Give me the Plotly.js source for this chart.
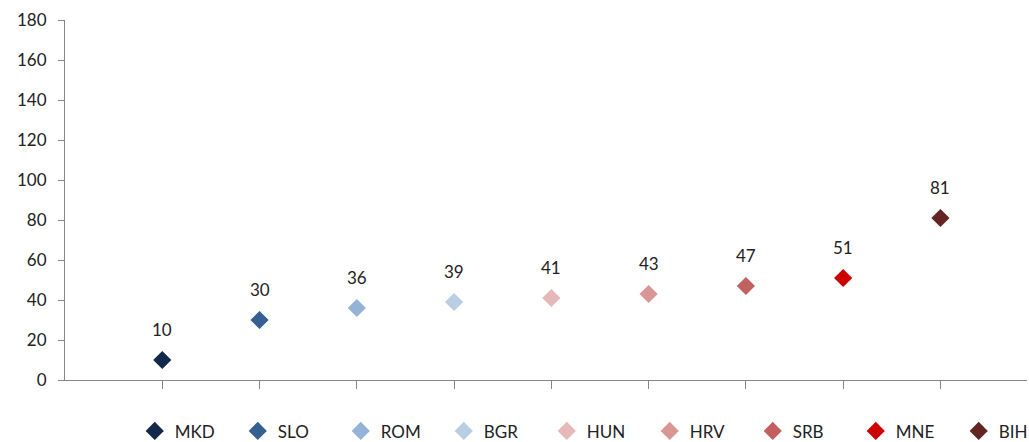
<!DOCTYPE html>
<html><head><meta charset="utf-8">
<script src="https://cdn.plot.ly/plotly-3.0.1.min.js"></script>
<style>html,body{margin:0;padding:0;background:#fff;overflow:hidden}</style>
</head><body><div id="chart" style="width:1029px;height:460px"></div>
<script>
const countries = ["MKD","SLO","ROM","BGR","HUN","HRV","SRB","MNE","BIH"];
const values = [10,30,36,39,41,43,47,51,81];
const colors = ["#14284b","#376092","#95b3d7","#b9cde5","#e6b9b8","#da9694","#c0605f","#cc0000","#632523"];
const yTicks = [0,20,40,60,80,100,120,140,160,180];

const traces = countries.map((c,i)=>({
  type:"scatter", mode:"markers", name:c,
  x:[i], y:[values[i]],
  marker:{symbol:"diamond", size:14, color:colors[i]},
  legend: i === countries.length-1 ? "legend2" : "legend",
  hoverinfo:"skip"
}));
const annotations = countries.map((c,i)=>({
  x:i, y:values[i], xref:"x", yref:"y", text:String(values[i]),
  showarrow:false, yshift:31, font:{family:"Lato, 'Open Sans', sans-serif", size:17, color:"#222"}
}));
const legendBase = {orientation:"h", xanchor:"left", yref:"container", y:0.023, yanchor:"bottom",
  font:{size:17, color:"#222"}, itemclick:false, bgcolor:"rgba(0,0,0,0)"};
const layout = {
  width:1029, height:460,
  margin:{l:65, r:2, t:20, b:80},
  paper_bgcolor:"#fff", plot_bgcolor:"#fff",
  font:{family:"Lato, 'Open Sans', sans-serif", size:17, color:"#222"},
  xaxis:{range:[-1,8.89], tickvals:countries.map((c,i)=>i), showticklabels:false,
    ticks:"outside", ticklen:8, tickcolor:"#868686", showgrid:false, zeroline:false,
    showline:true, linecolor:"#868686", linewidth:1, fixedrange:true},
  yaxis:{range:[0,180], tickvals:yTicks, ticktext:yTicks.map(String),
    ticks:"outside", ticklen:6, tickcolor:"#868686", showgrid:false, zeroline:false,
    showline:true, linecolor:"#868686", linewidth:1, ticklabelstandoff:8, fixedrange:true,
    tickfont:{size:17}},
  showlegend:true,
  legend:Object.assign({}, legendBase, {x:0.0725, entrywidth:58}),
  legend2:Object.assign({}, legendBase, {x:0.929, entrywidth:25}),
  annotations:annotations
};
Plotly.newPlot("chart", traces, layout, {staticPlot:true, displayModeBar:false});
</script></body></html>
